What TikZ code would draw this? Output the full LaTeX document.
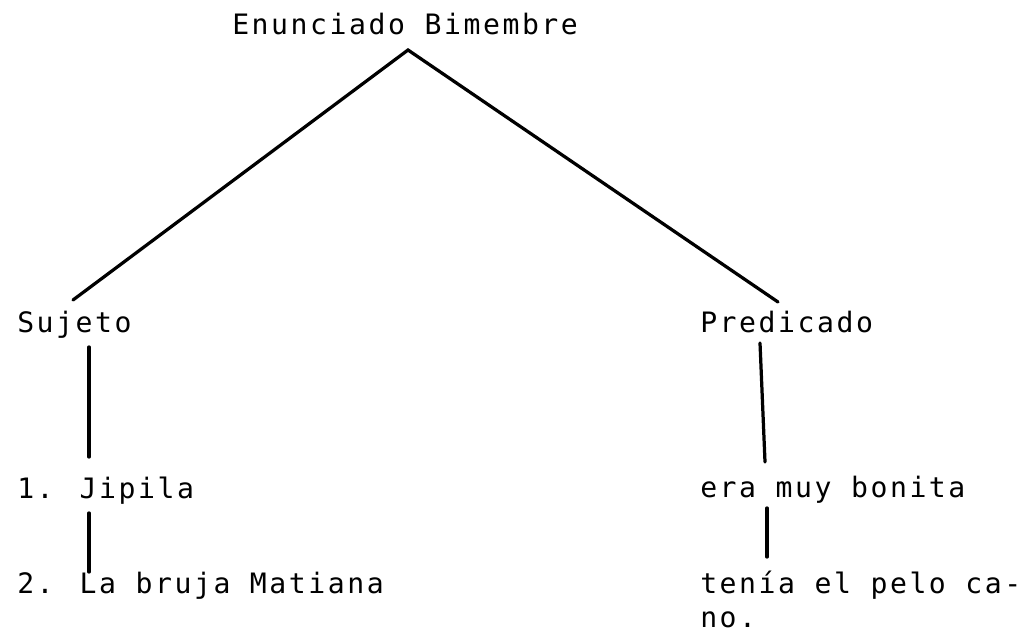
\documentclass[tikz,border=0pt]{standalone}
\usepackage{fontspec}
\newfontfamily\typew[LetterSpace=9.1]{DejaVu Sans Mono}
\usetikzlibrary{calc}
\tikzset{
	word/.style={anchor=base west, inner sep=0pt, align=left, font=\typew\fontsize{20}{24}\selectfont},
	branch/.style={line width=2.3pt, line cap=round}
}

\begin{document}
\begin{tikzpicture}
			%%%%% START %%%%%
			
			\useasboundingbox (0, 0) rectangle (25.9, -15.8);
			
			\node[word] (ent) at (5.8, -0.875) {Enunciado Bimembre};
			
			\node[word] (suj) at (0.425, -8.325) {Sujeto};
			\node[word] (jip) at (0.425, -12.45) {1. Jipila};
			\node[word] (bru) at (0.425, -14.825) {2. La bruja Matiana};
			
			\node[word] (pred) at (17.5, -8.3) {Predicado};
			\node[word] (era) at (17.5, -12.425) {era muy bonita};
			% base of a two-line node sits on its last line
			\node[word] (ten) at (17.5, -15.675) {ten\'ia el pelo ca-\\no.};
			
			\draw[branch] ($(suj.base west)+(1.4, 0.825)$) -- ($(ent.base west)+(4.4, -0.375)$) -- ($(pred.base west)+(1.95, 0.75)$);
			
			\draw[branch] ($(suj.base west)+(1.8, -0.35)$) -- ($(jip.base west)+(1.8, 1.025)$);
			\draw[branch] ($(jip.base west)+(1.8, -0.375)$) -- ($(bru.base west)+(1.8, 0.525)$);
			
			\draw[branch] ($(pred.base west)+(1.5, -0.275)$) -- ($(era.base west)+(1.625, 0.875)$);
			\draw[branch] ($(era.base west)+(1.675, -0.275)$) -- ($(ten.base west)+(1.675, 1.75)$);
			
			%%%%% END %%%%%
		\end{tikzpicture}
\end{document}
